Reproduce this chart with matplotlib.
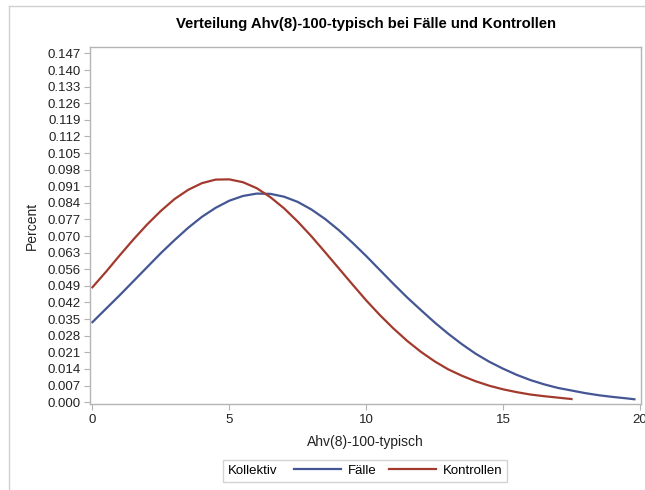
import numpy as np
import matplotlib
matplotlib.use('Agg')
import matplotlib.pyplot as plt
from matplotlib.lines import Line2D
from matplotlib.offsetbox import HPacker

plt.rcParams['font.family'] = ['Liberation Sans', 'DejaVu Sans']

# values
x_faelle = [0, 0.5, 1, 1.5, 2, 2.5, 3, 3.5, 4, 4.5, 5, 5.5, 6, 6.5, 7, 7.5, 8, 8.5, 9, 9.5,
            10, 10.5, 11, 11.5, 12, 12.5, 13, 13.5, 14, 14.5, 15, 15.5, 16, 16.5, 17, 17.5,
            18, 18.5, 19, 19.5, 19.8]
y_faelle = [0.0337, 0.0394, 0.0451, 0.0510, 0.0569, 0.0628, 0.0683, 0.0735, 0.0781, 0.0819,
            0.0849, 0.0869, 0.0879, 0.0878, 0.0866, 0.0844, 0.0812, 0.0772, 0.0725, 0.0672,
            0.0616, 0.0557, 0.0498, 0.0441, 0.0388, 0.0336, 0.0288, 0.0244, 0.0204, 0.0170,
            0.0141, 0.0115, 0.0093, 0.0075, 0.0060, 0.0049, 0.0038, 0.0029, 0.0022, 0.0016,
            0.0012]

x_kontrollen = [0, 0.5, 1, 1.5, 2, 2.5, 3, 3.5, 4, 4.5, 5, 5.5, 6, 6.5, 7, 7.5, 8, 8.5, 9, 9.5,
                10, 10.5, 11, 11.5, 12, 12.5, 13, 13.5, 14, 14.5, 15, 15.5, 16, 16.5, 17, 17.5]
y_kontrollen = [0.0484, 0.0550, 0.0619, 0.0686, 0.0749, 0.0806, 0.0856, 0.0895, 0.0923, 0.0938,
                0.0939, 0.0927, 0.0902, 0.0864, 0.0817, 0.0761, 0.0699, 0.0632, 0.0564, 0.0496,
                0.0429, 0.0367, 0.0310, 0.0258, 0.0212, 0.0172, 0.0138, 0.0111, 0.0088, 0.0069,
                0.0054, 0.0042, 0.0032, 0.0025, 0.0019, 0.0013]

y_ticks = np.round(np.arange(0, 0.1471, 0.007), 3)
x_ticks = [0, 5, 10, 15, 20]

fig = plt.figure(figsize=(6.45, 4.9), dpi=100)
ax = fig.add_axes([0.1403, 0.1745, 0.8535, 0.7296])

grey = '#b4b4b4'
ax.plot(x_faelle, y_faelle, color='#445694', lw=1.6, label='Fälle')
ax.plot(x_kontrollen, y_kontrollen, color='#a23a2e', lw=1.6, label='Kontrollen')

ax.set_xlim(-0.07, 20.04)
ax.set_ylim(-0.001, 0.1497)
ax.set_xticks(x_ticks)
ax.set_yticks(y_ticks)
ax.set_yticklabels([f'{v:.3f}' for v in y_ticks])
ax.tick_params(direction='out', length=4, width=0.8, color=grey, labelsize=9.5,
               labelcolor='#222222', pad=3)
for s in ax.spines.values():
    s.set_color(grey)
    s.set_linewidth(1.0)

ax.set_xlabel('Ahv(8)-100-typisch', fontsize=10, color='#222222', labelpad=6)
ax.set_ylabel('Percent', fontsize=10, color='#222222', labelpad=6)
ax.set_title('Verteilung Ahv(8)-100-typisch bei Fälle und Kontrollen',
             fontsize=10.7, fontweight='bold', pad=14)

leg = fig.legend(loc='center', bbox_to_anchor=(0.566, 0.039), ncol=2, fontsize=9.5,
                 title='Kollektiv', title_fontsize=9.5, frameon=True, fancybox=False,
                 edgecolor='#c8c8c8', handlelength=3.6, handletextpad=0.5,
                 columnspacing=0.9, borderpad=0.35)
leg.get_frame().set_linewidth(1.0)
# put the legend title to the left of the entries
box = HPacker(pad=leg._legend_box.pad, sep=12, align='center',
              children=[leg._legend_title_box, leg._legend_handle_box])
box.set_figure(fig)
box.axes = leg.axes
leg._legend_box = box
box.set_offset(leg._findoffset)

# light border of the output panel
fig.add_artist(Line2D([0.014, 0.014], [0, 0.988], transform=fig.transFigure,
                      color='#d0d0d0', lw=1.0))
fig.add_artist(Line2D([0.014, 1], [0.988, 0.988], transform=fig.transFigure,
                      color='#d0d0d0', lw=1.0))

fig.savefig('out.png', dpi=100)
